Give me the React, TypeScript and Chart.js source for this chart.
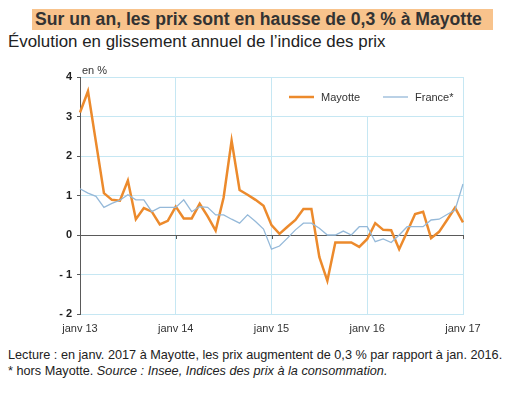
import React, { useEffect, useRef } from "react";
import { Chart, registerables } from "chart.js";

Chart.register(...registerables);

const monthNames = ["janv", "févr", "mars", "avr", "mai", "juin", "juil", "août", "sept", "oct", "nov", "déc"];
const years = ["13", "14", "15", "16", "17"];
const yTickLabels: Record<string, string> = { "4": "4", "3": "3", "2": "2", "1": "1", "0": "0", "-1": "- 1", "-2": "- 2" };

const mayotte = [
  3.10, 3.64, 2.35, 1.06, 0.89, 0.87, 1.38, 0.40, 0.68, 0.59, 0.27, 0.36,
  0.72, 0.42, 0.42, 0.79, 0.47, 0.11, 0.95, 2.39, 1.14, 1.02, 0.89, 0.74,
  0.25, 0.03, 0.21, 0.38, 0.66, 0.66, -0.56, -1.16, -0.19, -0.19, -0.19, -0.30,
  -0.10, 0.30, 0.13, 0.12, -0.36, 0.08, 0.53, 0.59, -0.08, 0.08, 0.38, 0.69,
  0.32,
];

const france = [
  1.17, 1.06, 0.98, 0.70, 0.80, 0.88, 1.02, 0.89, 0.89, 0.59, 0.70, 0.70,
  0.70, 0.89, 0.59, 0.72, 0.70, 0.51, 0.51, 0.40, 0.30, 0.51, 0.34, 0.15,
  -0.36, -0.28, -0.08, 0.13, 0.30, 0.30, 0.17, 0.0, 0.0, 0.10, 0.0, 0.21,
  0.21, -0.17, -0.10, -0.19, 0.0, 0.21, 0.21, 0.21, 0.38, 0.40, 0.52, 0.63,
  1.29,
];

const seriesNames = ["Mayotte", "France*"];
const ORANGE = "#EC8A2C";
const BLUE = "#95B9D9";
const GRID = "#C6E7F3";
const AXIS = "#5a5a5a";
const FONT = "'Liberation Sans', Arial, sans-serif";

const labels: string[] = [];
years.forEach((yy, yi) => {
  monthNames.forEach((m, mi) => {
    if (yi < years.length - 1 || mi === 0) labels.push(m + " " + yy);
  });
});

const overlayPlugin = {
  id: "overlay",
  beforeDatasetsDraw(chart: any) {
    const { ctx, chartArea, scales } = chart;
    const x = scales.x;
    const y = scales.y;
    const y0 = y.getPixelForValue(0);
    ctx.save();
    ctx.strokeStyle = AXIS;
    ctx.lineWidth = 1;
    labels.forEach((_l, i) => {
      if (i % 12 === 0 && i > 0) {
        const px = Math.round(x.getPixelForValue(i)) + 0.5;
        ctx.beginPath();
        ctx.moveTo(px, y0);
        ctx.lineTo(px, y0 + 4);
        ctx.stroke();
      }
    });
    const top = chartArea.top;
    ctx.fillStyle = "#ffffff";
    ctx.fillRect(chartArea.right - 184, top + 1, 183, 38);
    const ly = top + 20;
    const items = [
      { name: seriesNames[0], color: ORANGE, w: 2.5, x0: chartArea.right - 174 },
      { name: seriesNames[1], color: BLUE, w: 1.3, x0: chartArea.right - 80 },
    ];
    ctx.font = "11px " + FONT;
    ctx.textBaseline = "middle";
    items.forEach((it) => {
      ctx.strokeStyle = it.color;
      ctx.lineWidth = it.w;
      ctx.beginPath();
      ctx.moveTo(it.x0, ly);
      ctx.lineTo(it.x0 + 25, ly);
      ctx.stroke();
      ctx.fillStyle = "#333";
      ctx.fillText(it.name, it.x0 + 32, ly + 1);
    });
    ctx.font = "11px " + FONT;
    ctx.fillStyle = "#333";
    ctx.textBaseline = "bottom";
    ctx.fillText("en %", chartArea.left + 2, chartArea.top - 1);
    ctx.restore();
  },
};

function LineChart() {
  const ref = useRef<HTMLCanvasElement>(null);
  useEffect(() => {
    if (!ref.current) return;
    const chart = new Chart(ref.current, {
      type: "line",
      data: {
        labels,
        datasets: [
          {
            label: seriesNames[1],
            data: france,
            borderColor: BLUE,
            borderWidth: 1.3,
            pointRadius: 0,
            tension: 0,
            fill: false,
          },
          {
            label: seriesNames[0],
            data: mayotte,
            borderColor: ORANGE,
            borderWidth: 2.5,
            pointRadius: 0,
            tension: 0,
            fill: false,
          },
        ],
      },
      options: {
        responsive: false,
        animation: false,
        layout: { padding: { top: 17, right: 67, left: 0, bottom: 0 } },
        plugins: { legend: { display: false }, tooltip: { enabled: false } },
        scales: {
          x: {
            type: "category",
            offset: false,
            afterFit: (s: any) => {
              s.height = 26;
            },
            grid: {
              color: (c: any) => (c.index % 12 === 0 && c.index > 0 ? GRID : "transparent"),
              drawTicks: false,
              lineWidth: 1,
            },
            border: { color: GRID },
            ticks: {
              autoSkip: false,
              maxRotation: 0,
              padding: 8,
              color: "#333",
              font: { family: FONT, size: 11 },
              callback: (_v: any, i: number) => (i % 12 === 0 ? labels[i] : ""),
            },
          },
          y: {
            min: -2,
            max: 4,
            afterFit: (s: any) => {
              s.width = 80;
            },
            grid: {
              color: (c: any) => (c.tick && c.tick.value === 0 ? AXIS : GRID),
              tickColor: AXIS,
              tickLength: 3,
              drawTicks: true,
            },
            border: { color: AXIS, width: 1 },
            ticks: {
              stepSize: 1,
              padding: 5,
              color: "#222",
              font: { family: FONT, size: 11, weight: "bold" },
              callback: (v: any) => yTickLabels[String(v)] ?? String(v),
            },
          },
        },
      },
      plugins: [overlayPlugin],
    });
    return () => chart.destroy();
  }, []);
  return <canvas ref={ref} width={530} height={280} style={{ display: "block" }} />;
}

export default function App() {
  return (
    <div
      style={{
        position: "absolute",
        left: 0,
        top: 0,
        width: 530,
        height: 396,
        background: "#fff",
        fontFamily: FONT,
        color: "#222",
        overflow: "hidden",
      }}
    >
      <div
        style={{
          position: "absolute",
          left: 32,
          top: 9,
          width: 461,
          height: 21,
          background: "#F8C38C",
        }}
      />
      <div
        style={{
          position: "absolute",
          left: 35,
          top: 9,
          height: 21,
          lineHeight: "21px",
          fontSize: 17.6,
          fontWeight: "bold",
          color: "#333",
          whiteSpace: "nowrap",
        }}
      >
        Sur un an, les prix sont en hausse de 0,3 % à Mayotte
      </div>
      <div
        style={{
          position: "absolute",
          left: 8,
          top: 32,
          fontSize: 16.9,
          lineHeight: "20px",
          color: "#222",
          whiteSpace: "nowrap",
        }}
      >
        Évolution en glissement annuel de l’indice des prix
      </div>
      <div style={{ position: "absolute", left: 0, top: 60 }}>
        <LineChart />
      </div>
      <div
        style={{
          position: "absolute",
          left: 8,
          top: 347,
          fontSize: 12.7,
          lineHeight: "16px",
          color: "#222",
          whiteSpace: "nowrap",
        }}
      >
        <div>Lecture : en janv. 2017 à Mayotte, les prix augmentent de 0,3 % par rapport à jan. 2016.</div>
        <div>
          * hors Mayotte. <i>Source : Insee, Indices des prix à la consommation.</i>
        </div>
      </div>
    </div>
  );
}
